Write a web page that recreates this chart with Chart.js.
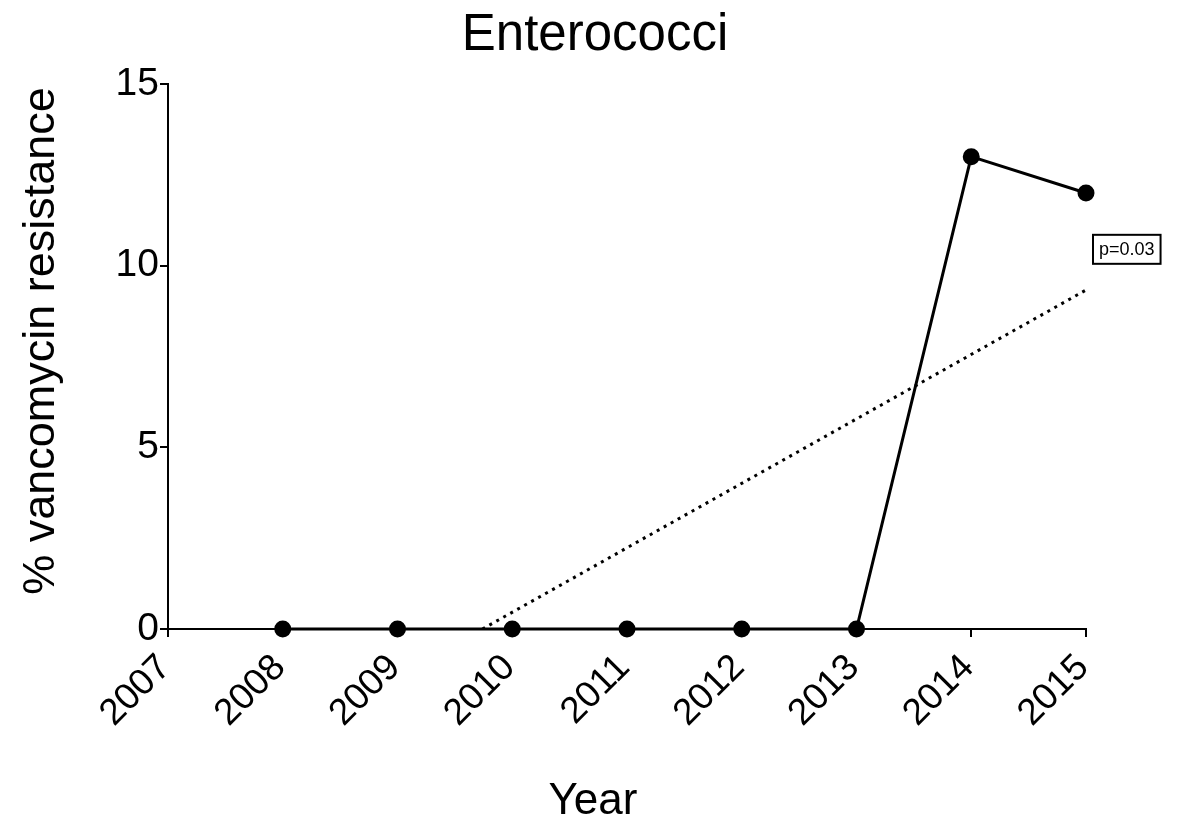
<!DOCTYPE html>
<html>
<head>
<meta charset="utf-8">
<script src="https://cdn.jsdelivr.net/npm/chart.js@4.4.1/dist/chart.umd.min.js"></script>
<style>
html,body{margin:0;padding:0;background:#fff;}
#wrap{width:1181px;height:835px;position:relative;}
</style>
</head>
<body>
<div id="wrap"><canvas id="c" width="1181" height="835"></canvas></div>
<script>
const years = [2008, 2009, 2010, 2011, 2012, 2013, 2014, 2015];
const resistance = [0, 0, 0, 0, 0, 0, 13, 12];
const trendYears = [2009.74, 2015];
const trendValues = [0, 9.33];
const xTicks = [2007, 2008, 2009, 2010, 2011, 2012, 2013, 2014, 2015];
const yTicks = [0, 5, 10, 15];
const chartTitle = 'Enterococci';
const xTitle = 'Year';
const yTitle = '% vancomycin resistance';
const pLabel = 'p=0.03';

const FONT = "'Liberation Sans', Arial, Helvetica, sans-serif";

const textPlugin = {
  id: 'texts',
  afterDraw(chart) {
    const ctx = chart.ctx;
    const xs = chart.scales.x, ys = chart.scales.y;
    ctx.save();
    ctx.fillStyle = '#000';
    ctx.textAlign = 'center';
    ctx.textBaseline = 'middle';
    ctx.font = '51px ' + FONT;
    ctx.fillText(chartTitle, 595, 36);
    ctx.font = '44px ' + FONT;
    ctx.fillText(xTitle, 593, 802);
    ctx.save();
    ctx.translate(42, 341);
    ctx.rotate(-Math.PI / 2);
    ctx.font = '45px ' + FONT;
    ctx.fillText(yTitle, 0, 0);
    ctx.restore();
    // p-value box
    const bx = xs.getPixelForValue(2015) + 7;
    const by = ys.getPixelForValue(10.45);
    ctx.font = '18px ' + FONT;
    const w = ctx.measureText(pLabel).width + 12;
    const h = 29;
    ctx.lineWidth = 2;
    ctx.strokeStyle = '#000';
    ctx.strokeRect(bx, by - h / 2, w, h);
    ctx.textAlign = 'left';
    ctx.fillText(pLabel, bx + 6, by + 1);
    ctx.restore();
  }
};

new Chart(document.getElementById('c'), {
  type: 'scatter',
  data: {
    datasets: [
      {
        data: years.map((y, i) => ({x: y, y: resistance[i]})),
        showLine: true,
        borderColor: '#000',
        backgroundColor: '#000',
        borderWidth: 3,
        pointRadius: 7,
        pointHoverRadius: 7,
        tension: 0,
        clip: false
      },
      {
        data: trendYears.map((y, i) => ({x: y, y: trendValues[i]})),
        showLine: true,
        borderColor: '#000',
        borderWidth: 3,
        borderDash: [3, 5],
        pointRadius: 0,
        tension: 0
      }
    ]
  },
  options: {
    responsive: false,
    animation: false,
    events: [],
    layout: { padding: { left: 0, right: 95, top: 84, bottom: 0 } },
    plugins: { legend: { display: false }, tooltip: { enabled: false }, title: { display: false } },
    scales: {
      x: {
        type: 'linear',
        min: 2007, max: 2015,
        afterBuildTicks(s) { s.ticks = xTicks.map(v => ({value: v})); },
        afterFit(s) { s.height = 206; },
        grid: { drawOnChartArea: false, drawTicks: true, tickLength: 8, color: '#000', lineWidth: 2 },
        border: { color: '#000', width: 2 },
        ticks: {
          color: '#000',
          font: { family: FONT, size: 37 },
          maxRotation: 45, minRotation: 45,
          padding: 9,
          labelOffset: -3,
          callback: v => String(v)
        }
      },
      y: {
        type: 'linear',
        min: 0, max: 15,
        afterBuildTicks(s) { s.ticks = yTicks.map(v => ({value: v})); },
        afterFit(s) { s.width = 168; },
        grid: { drawOnChartArea: false, drawTicks: true, tickLength: 8, color: '#000', lineWidth: 2 },
        border: { color: '#000', width: 2 },
        ticks: {
          color: '#000',
          font: { family: FONT, size: 39 },
          padding: 1
        }
      }
    }
  },
  plugins: [textPlugin]
});
</script>
</body>
</html>
